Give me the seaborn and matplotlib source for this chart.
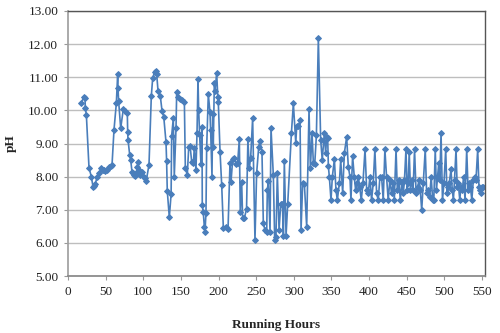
import pandas as pd
import matplotlib
matplotlib.use('Agg')
import matplotlib.pyplot as plt
import seaborn as sns

# running hours and pH
hours = [17.7, 20.8, 22.6, 23.0, 24.4, 27.9, 31.0, 33.2, 34.5, 36.3, 38.5, 41.6, 44.3, 46.0, 47.8,
         49.5, 51.3, 54.4, 56.5, 58.5, 61.1, 64.2, 66.0, 66.4, 67.3, 70.0, 73.5, 76.2, 78.8, 79.3,
         79.7, 82.0, 83.3, 85.0, 86.3, 87.7, 89.0, 90.8, 92.0, 93.0, 94.3, 95.6, 97.0, 98.3, 100.5,
         102.0, 104.0, 107.6, 110.7, 112.5, 115.2, 116.5, 117.8, 119.6, 122.7, 124.9, 127.2, 130.2,
         131.0, 131.9, 134.6, 137.0, 137.7, 139.9, 141.2, 143.5, 144.4, 146.1, 148.3, 151.0, 154.6,
         155.9, 158.5, 160.4, 162.2, 164.3, 166.5, 167.8, 170.0, 171.4, 172.7, 173.6, 174.9, 176.6,
         178.0, 178.4, 179.7, 181.1, 182.0, 183.3, 184.2, 186.4, 188.6, 189.5, 191.3, 192.2, 193.0,
         194.4, 195.5, 197.5, 199.0, 199.7, 202.0, 204.2, 206.4, 209.5, 212.6, 215.2, 216.5, 218.8,
         221.0, 223.6, 225.4, 227.6, 228.9, 230.7, 232.0, 234.2, 237.2, 239.0, 240.8, 242.6, 245.3,
         248.4, 250.6, 253.3, 255.0, 257.7, 259.5, 261.7, 264.0, 264.8, 266.2, 268.4, 269.7, 272.8,
         274.6, 276.3, 278.1, 280.4, 282.6, 284.8, 286.2, 287.4, 289.7, 291.9, 296.8, 299.4, 302.6,
         303.9, 306.1, 308.3, 309.6, 311.8, 314.0, 317.1, 320.2, 322.0, 324.2, 326.0, 327.8, 330.0,
         332.6, 335.7, 337.8, 340.5, 342.3, 343.6, 345.0, 345.9, 347.2, 349.4, 351.2, 353.9, 356.0,
         357.8, 360.5, 362.3, 364.9, 367.1, 370.2, 372.4, 374.6, 375.9, 378.1, 380.3, 382.1, 384.0,
         385.6, 387.5, 389.6, 391.8, 394.6, 396.8, 398.9, 401.1, 403.3, 405.5, 407.7, 410.0, 412.2,
         414.4, 416.6, 418.8, 421.0, 423.2, 425.4, 427.6, 429.8, 432.0, 433.5, 435.8, 437.5, 439.5,
         441.5, 443.5, 445.5, 447.0, 449.0, 450.5, 452.0, 453.3, 455.0, 457.0, 458.5, 460.4, 462.5,
         464.5, 466.5, 468.0, 469.9, 472.0, 474.6, 476.5, 478.5, 480.5, 482.5, 484.5, 486.0, 487.9,
         489.5, 491.0, 492.5, 494.0, 495.6, 497.5, 499.5, 501.8, 503.5, 505.0, 506.5, 508.8, 510.5,
         512.0, 513.5, 515.5, 517.0, 518.5, 520.5, 522.0, 524.0, 525.5, 527.5, 529.7, 531.5, 533.0,
         534.5, 536.5, 538.5, 540.5, 542.0, 544.3, 546.0, 547.4, 548.5, 550.0, 551.5]

ph = [10.21, 10.41, 10.36, 10.08, 9.86, 8.27, 8.00, 7.70, 7.72, 7.78, 7.98, 8.10, 8.25, 8.21, 8.20,
      8.18, 8.20, 8.28, 8.33, 8.36, 9.41, 10.21, 11.09, 10.69, 10.27, 9.46, 10.04, 9.99, 9.91, 9.34,
      9.12, 8.65, 8.50, 8.15, 8.12, 8.05, 8.02, 8.10, 8.30, 8.45, 8.20, 8.05, 8.10, 8.15, 8.00,
      7.95, 7.88, 8.36, 10.44, 10.97, 11.17, 11.20, 11.10, 10.59, 10.42, 9.99, 9.81, 9.04,
      8.47, 7.57, 6.77, 7.48, 9.23, 9.76, 8.00, 9.46, 10.56, 10.40, 10.34, 10.30, 10.26,
      8.25, 8.05, 8.90, 8.93, 8.45, 8.40, 8.87, 8.20, 9.31, 10.94, 10.01, 9.25, 8.39,
      9.50, 7.14, 6.93, 6.49, 6.34, 6.90, 8.85, 10.49, 9.95, 9.40, 8.00, 9.90, 8.90,
      10.82, 10.60, 11.14, 10.41, 10.24, 8.75, 7.74, 6.44, 6.49, 6.41, 8.40, 7.83, 8.52,
      8.55, 8.38, 8.42, 9.13, 6.94, 7.85, 6.74, 6.74, 7.02, 9.13, 8.25, 8.55, 9.76,
      6.08, 8.10, 8.88, 9.07, 8.75, 6.59, 6.39, 6.34, 7.60, 7.86, 6.34, 9.46, 8.04,
      6.08, 6.18, 8.10, 6.39, 7.16, 7.18, 6.22, 8.47, 6.22, 7.18, 9.31, 10.21, 9.02,
      9.54, 9.52, 9.72, 6.39, 7.81, 7.79, 6.49, 10.03, 8.25, 9.31, 8.40, 8.38, 9.25,
      12.17, 9.10, 8.51, 9.31, 8.70, 9.20, 9.18, 8.31, 8.00, 7.29, 8.00, 8.52, 7.60,
      7.29, 7.80, 8.52, 7.50, 8.70, 9.20, 8.30, 8.00, 7.29, 8.63, 8.00, 7.60, 7.80,
      8.00, 7.70, 7.29, 7.80, 8.82, 7.60, 7.50, 8.00, 7.29, 7.80, 8.82, 7.50, 7.29,
      8.00, 8.00, 7.29, 8.82, 8.00, 7.29, 7.90, 7.50, 7.80, 7.30, 8.82, 7.60, 7.90,
      7.30, 7.80, 7.50, 7.90, 8.82, 7.60, 7.80, 8.75, 7.60, 7.90, 7.60, 8.82, 7.50,
      7.70, 7.90, 7.60, 6.99, 7.80, 8.82, 7.50, 7.60, 7.40, 8.00, 7.30, 7.30, 8.82,
      7.60, 8.00, 8.40, 7.90, 9.31, 7.30, 7.80, 8.82, 7.50, 7.70, 7.80, 8.22, 7.60,
      7.30, 7.90, 8.82, 7.70, 7.80, 7.30, 7.70, 7.60, 8.00, 7.30, 8.82, 7.60, 7.80,
      7.70, 7.30, 7.90, 8.00, 7.90, 8.82, 7.70, 7.60, 7.50, 7.70, 7.70]

x_ticks = [0, 50, 100, 150, 200, 250, 300, 350, 400, 450, 500, 550]
y_ticks = [5, 6, 7, 8, 9, 10, 11, 12, 13]

df = pd.DataFrame({'hours': hours, 'ph': ph})

sns.set_theme(style="white")
plt.rcParams['font.family'] = ['Liberation Serif', 'DejaVu Serif']

fig = plt.figure(figsize=(5, 3.33), dpi=100)
ax = fig.add_axes([0.136, 0.171, 0.834, 0.796])

sns.lineplot(data=df, x='hours', y='ph', marker='D', markersize=3, color='#4A7EBB',
             markeredgecolor='#4A7EBB', linewidth=1.2, estimator=None, ax=ax)

ax.set_xlim(0, 554)
ax.set_ylim(5, 13)
ax.set_xticks(x_ticks)
ax.set_yticks(y_ticks)
ax.set_yticklabels([f"{v:.2f}" for v in y_ticks])
ax.tick_params(axis='both', labelsize=9.5, colors='#222222', length=3, width=0.8,
               direction='out', pad=4)
ax.tick_params(axis='both', color='#999999')
ax.xaxis.set_ticks_position('bottom')
ax.yaxis.set_ticks_position('left')

ax.grid(axis='y', color='#BEBEBE', linewidth=1)
ax.set_axisbelow(True)

for side in ['top', 'right']:
    ax.spines[side].set_color('#555555')
    ax.spines[side].set_linewidth(1)
ax.spines['left'].set_color('#A0A0A0')
ax.spines['bottom'].set_color('#888888')

ax.set_xlabel('Running Hours', fontsize=9.5, fontweight='bold', labelpad=15)
ax.set_ylabel('pH', fontsize=9.5, fontweight='bold', labelpad=8)

plt.savefig('out.png', dpi=100)
